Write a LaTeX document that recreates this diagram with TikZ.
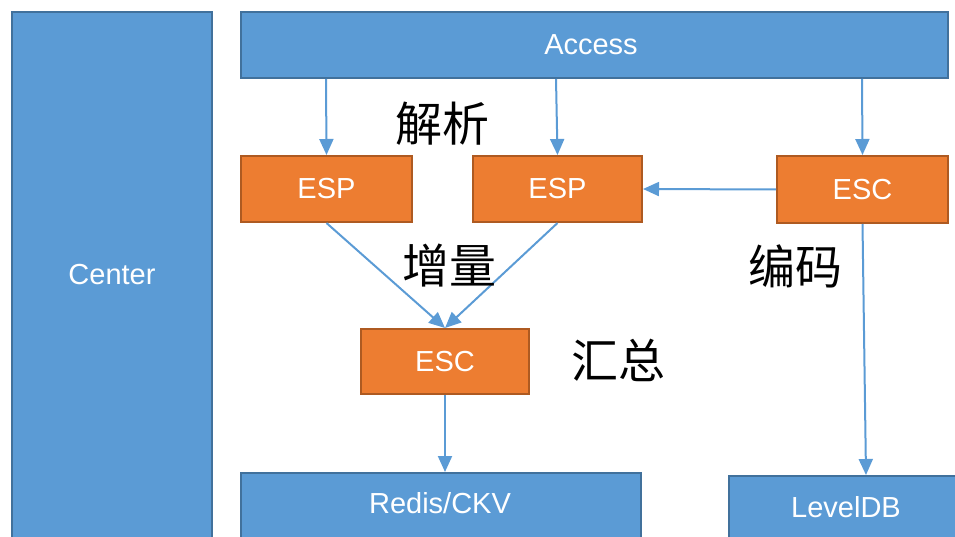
\documentclass[tikz,border=0pt]{standalone}
\usepackage{fontspec}
\setmainfont{Liberation Sans}
\newfontfamily\cjk{Noto Sans CJK SC}
\usetikzlibrary{arrows.meta}
\definecolor{boxblue}{HTML}{5B9BD5}
\definecolor{edgeblue}{HTML}{41719C}
\definecolor{boxorange}{HTML}{ED7D31}
\definecolor{edgeorange}{HTML}{AE5A21}
\tikzset{
  label text/.style={text=white, font=\fontsize{29}{32}\selectfont},
  bluebox/.style={draw=edgeblue, fill=boxblue, line width=2pt},
  orangebox/.style={draw=edgeorange, fill=boxorange, line width=2pt,
    label text, inner sep=0pt},
  flow/.style={draw=boxblue, line width=2pt,
    -{Triangle[length=16pt, width=14pt]}},
  note/.style={font=\cjk\fontsize{47}{50}\selectfont, text=black}
}
\begin{document}
\begin{tikzpicture}[x=1pt, y=-1pt]
  \useasboundingbox (0,0) rectangle (955,537);
  \begin{scope}
    \clip (0,0) rectangle (955,537);
    % blue layers, running past the lower edge
    \draw[bluebox] (12,12) rectangle (212,560);
    \node[label text] (center) at (112,275) {Center};
    \draw[bluebox] (241,12) rectangle (948,78);
    \node[label text] (access) at (591,45) {Access};
    \draw[bluebox] (241,473) rectangle (641,560);
    \node[label text] (redis) at (440,503) {Redis/CKV};
    \draw[bluebox] (729,476) rectangle (980,560);
    \node[label text] (leveldb) at (846,507) {LevelDB};
  \end{scope}
  % processing nodes
  \node[orangebox, minimum width=171pt, minimum height=66pt] (esp1) at (326.5,189) {ESP};
  \node[orangebox, minimum width=169pt, minimum height=66pt] (esp2) at (557.5,189) {ESP};
  \node[orangebox, minimum width=171pt, minimum height=67pt] (escr) at (862.5,189.5) {ESC};
  \node[orangebox, minimum width=168pt, minimum height=65pt] (escm) at (445,361.5) {ESC};
  % attachment points on the blue layers
  \coordinate (a1) at (326,79);
  \coordinate (a2) at (556,79);
  \coordinate (a3) at (862,79);
  \coordinate (r1) at (445,472);
  \coordinate (l1) at (866,475);
  % connectors
  \draw[flow] (a1) -- (esp1.north);
  \draw[flow] (a2) -- (esp2.north);
  \draw[flow] (a3) -- (escr.north);
  \draw[flow] (escr.west) -- (esp2.east);
  \draw[flow] (esp1.south) -- (escm.north);
  \draw[flow] (esp2.south) -- (escm.north);
  \draw[flow] (escm.south) -- (r1);
  \draw[flow] (escr.south) -- (l1);
  % stage labels
  \node[note] (jiexi) at (442,124) {解析};
  \node[note] (zengliang) at (449,266) {增量};
  \node[note] (bianma) at (795,266) {编码};
  \node[note] (huizong) at (618,360) {汇总};
\end{tikzpicture}
\end{document}
